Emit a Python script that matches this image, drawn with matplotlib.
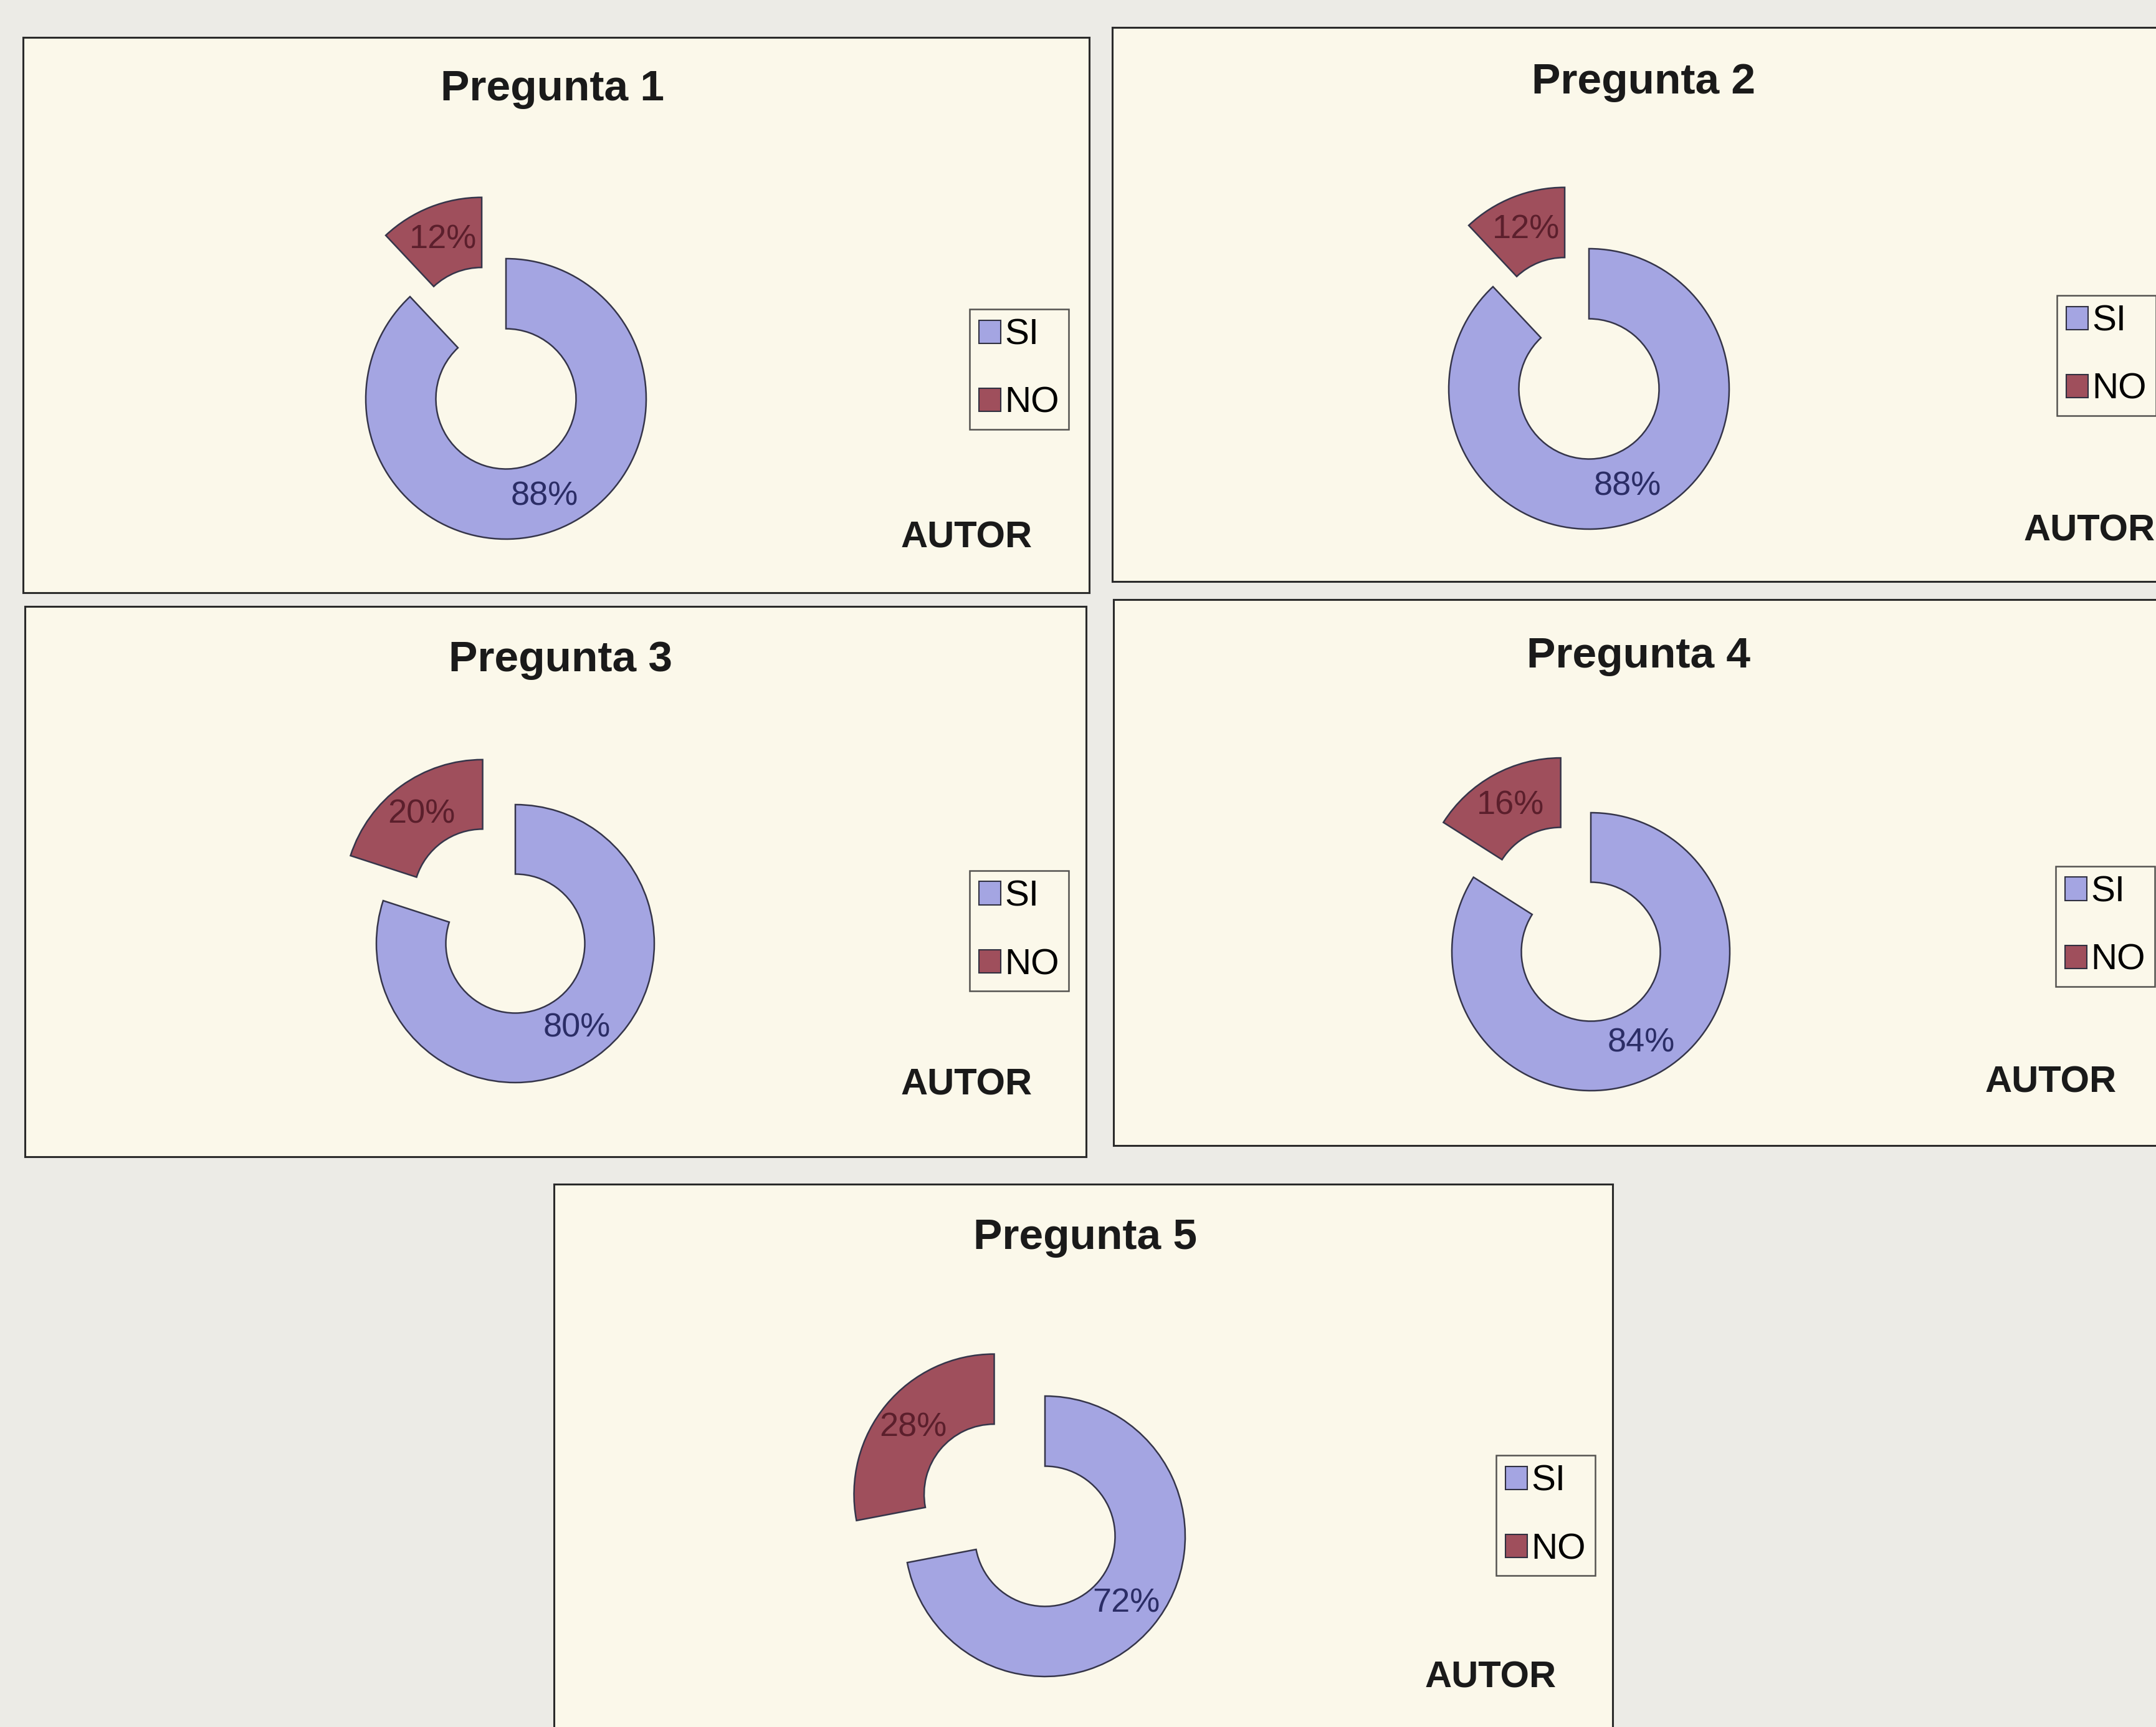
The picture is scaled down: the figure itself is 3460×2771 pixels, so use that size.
import matplotlib
matplotlib.use("Agg")
import matplotlib.pyplot as plt
from matplotlib.patches import Patch

# data
preguntas = ["Pregunta 1", "Pregunta 2", "Pregunta 3", "Pregunta 4", "Pregunta 5"]
categorias = ["SI", "NO"]
si_pct = [88, 88, 80, 84, 72]
no_pct = [12, 12, 20, 16, 28]
fuente = "AUTOR"

# layout in pixels of the 3460x2771 page
W, H = 3460, 2771
paneles = [(37, 60, 1748, 951), (1785, 44, 3495, 933), (40, 973, 1743, 1856),
           (1787, 962, 3495, 1838), (889, 1900, 2588, 2783)]
centros = [(812, 640), (2550, 624), (827, 1514), (2553, 1527), (1677, 2465)]
radios = [225, 225, 223, 223, 225]
separacion = [0.47, 0.47, 0.40, 0.45, 0.47]
titulos_pos = [(887, 143), (2637, 132), (900, 1059), (2630, 1053), (1741, 1986)]
autor_pos = [(1551, 863), (3353, 852), (1551, 1741), (3291, 1737), (2392, 2692)]
leyenda_pos = [(1556, 496), (3301, 474), (1556, 1397), (3299, 1390), (2401, 2335)]

color_si = "#a4a5e2"
color_no = "#9f4f5c"
plt.rcParams["font.family"] = ["Liberation Sans", "DejaVu Sans"]

fig = plt.figure(figsize=(W / 100, H / 100), dpi=100)
fig.patch.set_facecolor("#ecebe6")

for i, titulo in enumerate(preguntas):
    x0, y0, x1, y1 = paneles[i]
    w, h = x1 - x0, y1 - y0
    ax = fig.add_axes([x0 / W, 1 - y1 / H, w / W, h / H])
    ax.set_facecolor("#fbf8ea")

    cx, cy = centros[i]
    r = radios[i]
    # explode is in data units here, so scale it by the radius
    wedges, textos, pcts = ax.pie(
        [si_pct[i], no_pct[i]], colors=[color_si, color_no],
        startangle=90, counterclock=False, radius=r,
        center=(cx - x0, y1 - cy), explode=[0, separacion[i] * r],
        autopct="%1.0f%%", pctdistance=0.75, frame=True,
        wedgeprops=dict(width=r * 0.5, edgecolor="#35354a", linewidth=1.8),
        textprops=dict(fontsize=39))
    pcts[0].set_color("#2b2d66")
    pcts[1].set_color("#5b1f2c")

    ax.set_xlim(0, w)
    ax.set_ylim(0, h)
    ax.set_aspect("auto")
    ax.set_xticks([])
    ax.set_yticks([])
    for s in ax.spines.values():
        s.set_color("#2a2a2a")
        s.set_linewidth(2.2)

    tx, ty = titulos_pos[i]
    ax.text(tx - x0, y1 - ty, titulo, ha="center", va="center",
            fontsize=50, fontweight="bold", color="#1a1a1a")
    axx, axy = autor_pos[i]
    ax.text(axx - x0, y1 - axy, fuente, ha="center", va="center",
            fontsize=43, fontweight="bold", color="#1a1a1a")

    handles = [Patch(facecolor=color_si, edgecolor="#303040", linewidth=1.5),
               Patch(facecolor=color_no, edgecolor="#303040", linewidth=1.5)]
    lx, ly = leyenda_pos[i]
    leg = ax.legend(handles, categorias, loc="upper left",
                    bbox_to_anchor=((lx - x0) / w, (y1 - ly) / h),
                    borderaxespad=0, fontsize=42, fancybox=False,
                    handlelength=0.6, handleheight=0.6, handletextpad=0.12,
                    labelspacing=0.95, borderpad=0.25)
    leg.get_frame().set_edgecolor("#2a2a2a")
    leg.get_frame().set_linewidth(1.8)
    leg.get_frame().set_facecolor("#fbf8ea")

fig.savefig("out.png", dpi=100, facecolor=fig.get_facecolor())
